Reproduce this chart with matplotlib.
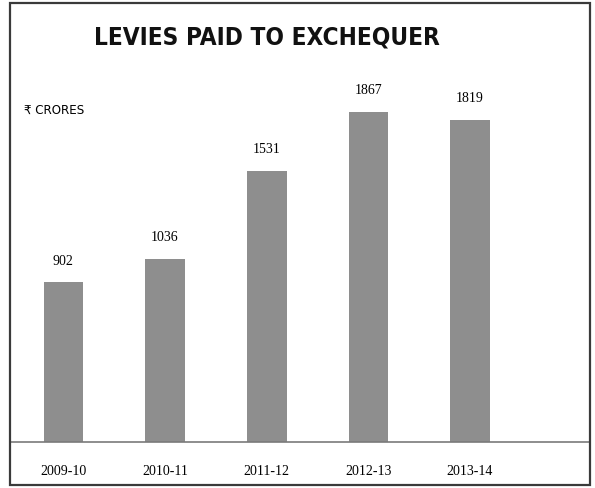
import matplotlib.pyplot as plt
from matplotlib.patches import Rectangle

# Levies paid to the exchequer, Rs crores
years = ['2009-10', '2010-11', '2011-12', '2012-13', '2013-14']
levies = [902, 1036, 1531, 1867, 1819]

W, H = 595, 489
fig = plt.figure(figsize=(W / 100, H / 100), dpi=100)

# outer frame round the whole chart
fig.patches.append(Rectangle((10 / W, 3 / H), 580 / W, 482 / H, transform=fig.transFigure,
                             fill=False, edgecolor='#3a3a3a', linewidth=1.6))

# axes run the full frame width, baseline at y=443px
ax = fig.add_axes([11 / W, (H - 443) / H, 578 / W, 438 / H])
x = list(range(len(years)))
bars = ax.bar(x, levies, width=0.39, color='#8e8e8e')
ax.set_xlim(-0.515, 5.17)
ax.set_ylim(0, 2475)

for s in ['top', 'left', 'right']:
    ax.spines[s].set_visible(False)
ax.spines['bottom'].set_color('#7a7a7a')
ax.spines['bottom'].set_linewidth(1.2)
ax.set_yticks([])
ax.set_xticks(x)
ax.set_xticklabels(years, family='Liberation Serif', fontsize=10)
ax.tick_params(axis='x', length=0, pad=16)

for xi, v in zip(x, levies):
    ax.annotate(str(v), (xi, v), xytext=(0, 16), textcoords='offset points',
                ha='center', va='center', family='Liberation Serif', fontsize=10)

fig.text(267 / W, 1 - 38 / H, 'LEVIES PAID TO EXCHEQUER', ha='center', va='center',
         family='DejaVu Sans', fontstretch='condensed', fontweight='bold',
         fontsize=17.5, color='#111111')
fig.text(24 / W, 1 - 110 / H, '₹ CRORES', ha='left', va='center',
         family='DejaVu Sans', fontstretch='condensed', fontsize=9.5)

fig.savefig('out.png', dpi=100)
